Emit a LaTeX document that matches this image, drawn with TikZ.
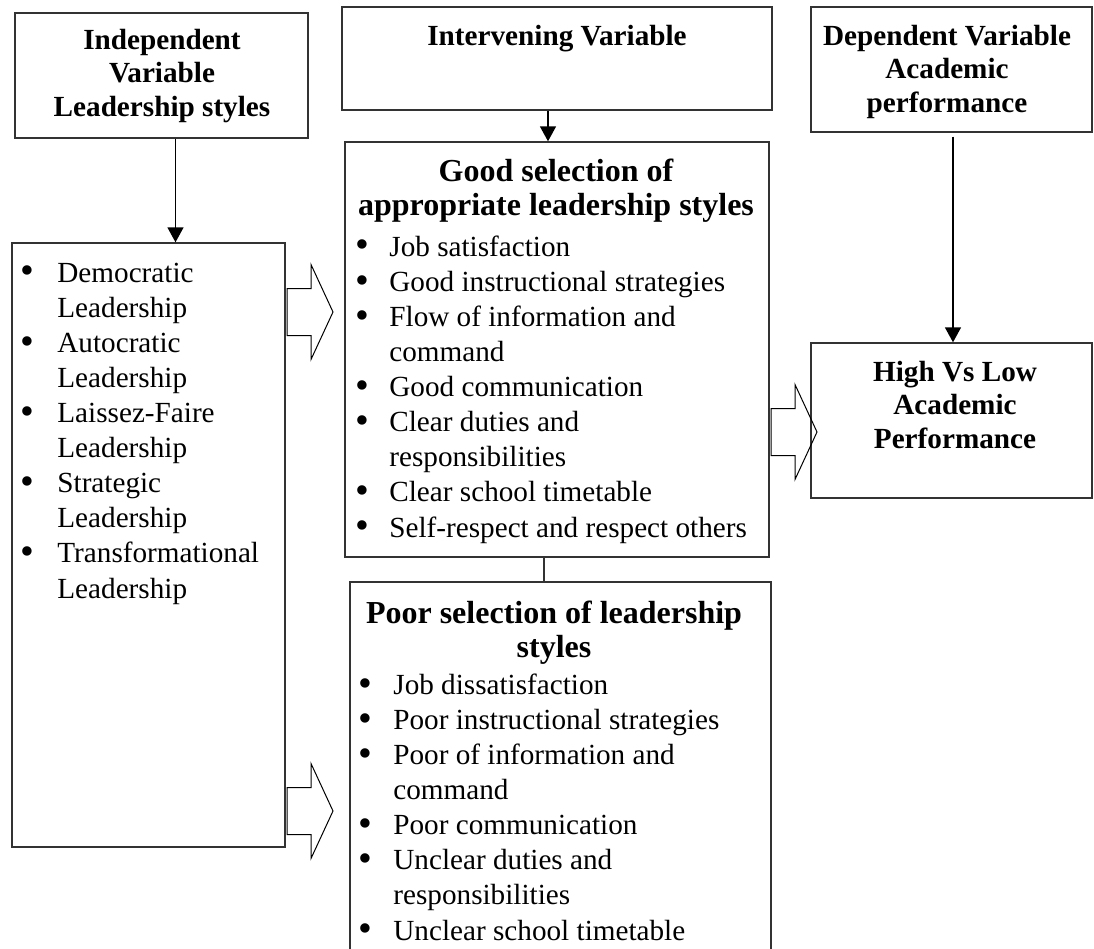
\documentclass[tikz,border=0pt]{standalone}
\usepackage{fontspec}
\setmainfont{Liberation Serif}
\usetikzlibrary{fit,arrows.meta}

% bullet item and continuation line for the list nodes
\newcommand\bigbullet{\raisebox{-0.06em}{\scalebox{1.35}{\textbullet}}}
\newcommand\bul[2][17pt]{\makebox[#1][l]{\bigbullet}#2}
\newcommand\cont[2][17pt]{\hspace*{#1}#2}

\begin{document}
\begin{tikzpicture}[x=0.5pt,y=-0.5pt,
  box/.style={draw=black!80, line width=0.7pt, inner sep=0pt},
  body/.style={font=\fontsize{14.6}{17.55}\selectfont, inner sep=0pt, align=left},
  head/.style={font=\bfseries\fontsize{14.6}{16.6}\selectfont, inner sep=0pt, align=center},
  bighead/.style={font=\bfseries\fontsize{16}{17}\selectfont, inner sep=0pt, align=center},
  arr/.style={-{Triangle[width=8pt,length=7.5pt]}, line width=0.75pt},
  blockarrow/.style={draw, line width=0.5pt, line join=miter}
]
\useasboundingbox (0,0) rectangle (1094,949);

% outlined block arrow: tail x, centre y
\newcommand\blockarrow[2]{%
  \draw[blockarrow] (#1,#2-23.5) -- ++(24,0) -- ++(0,-24) -- (#1+46,#2)
    -- (#1+24,#2+47.5) -- ++(0,-24) -- (#1,#2+23.5) -- cycle;}

% frames
\node[box, fit={(15,13) (308,138)}] (indep) {};
\node[box, fit={(342,7) (772,110)}] (interv) {};
\node[box, fit={(811,7) (1092,132)}] (dep) {};
\node[box, fit={(12,243) (285,847)}] (styles) {};
\node[box, fit={(345,142) (769,557)}] (good) {};
\node[box, fit={(811,343) (1092,498)}] (perf) {};
\node[box, fit={(350,582) (771,970)}] (poor) {};

% headings (anchored at the baseline of their last line)
\node[head, anchor=base] (indepT) at (162,116) {Independent\\Variable\\Leadership styles};
\node[head, anchor=base] (intervT) at (557,45) {Intervening Variable};
\node[head, anchor=base] (depT) at (947,112) {Dependent Variable\\Academic\\performance};
\node[head, anchor=base] (perfT) at (955,448) {High Vs Low\\Academic\\Performance};
\node[bighead, anchor=base] (goodT) at (556,215) {Good selection of\\appropriate leadership styles};
\node[bighead, anchor=base] (poorT) at (554,657) {Poor selection of leadership\\styles};

% lists (anchored at the baseline of their last line)
\node[body, anchor=base west] (stylesL) at (20,598) {%
  \bul[18.5pt]{Democratic}\\ \cont[18.5pt]{Leadership}\\
  \bul[18.5pt]{Autocratic}\\ \cont[18.5pt]{Leadership}\\
  \bul[18.5pt]{Laissez-Faire}\\ \cont[18.5pt]{Leadership}\\
  \bul[18.5pt]{Strategic}\\ \cont[18.5pt]{Leadership}\\
  \bul[18.5pt]{Transformational}\\ \cont[18.5pt]{Leadership}};

\node[body, anchor=base west] (goodL) at (355,537) {%
  \bul{Job satisfaction}\\
  \bul{Good instructional strategies}\\
  \bul{Flow of information and}\\ \cont{command}\\
  \bul{Good communication}\\
  \bul{Clear duties and}\\ \cont{responsibilities}\\
  \bul{Clear school timetable}\\
  \bul{Self-respect and respect others}};

\node[body, anchor=base west] (poorL) at (358,940) {%
  \bul[17.5pt]{Job dissatisfaction}\\
  \bul[17.5pt]{Poor instructional strategies}\\
  \bul[17.5pt]{Poor of information and}\\ \cont[17.5pt]{command}\\
  \bul[17.5pt]{Poor communication}\\
  \bul[17.5pt]{Unclear duties and}\\ \cont[17.5pt]{responsibilities}\\
  \bul[17.5pt]{Unclear school timetable}};

% connectors
\coordinate (a1) at ([xshift=7pt]indep.south);
\draw[arr] (a1) -- (a1 |- styles.north);
\coordinate (a2) at ([xshift=-4.5pt]interv.south);
\draw[arr] (a2) -- (a2 |- good.north);
\coordinate (a3) at ([xshift=0.75pt,yshift=-2pt]dep.south);
\draw[arr] (a3) -- (a3 |- perf.north);
\coordinate (a4) at ([xshift=-6.5pt]good.south);
\draw[line width=0.6pt, black!80] (a4) -- (a4 |- poor.north);

% block arrows
\blockarrow{287}{312}
\blockarrow{287}{811}
\blockarrow{771}{432}
\end{tikzpicture}
\end{document}
